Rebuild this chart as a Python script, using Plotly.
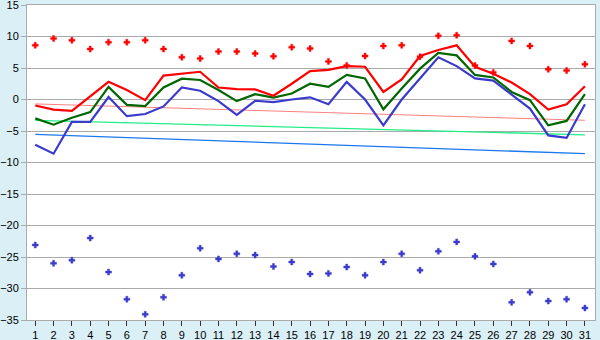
import plotly.graph_objects as go

days = list(range(1, 32))

red_line = [-0.95, -1.6, -1.8, 0.5, 2.8, 1.5, -0.1, 3.8, 4.1, 4.4, 1.9, 1.65, 1.6, 0.6, 2.5, 4.5,
            4.7, 5.3, 5.2, 1.2, 3.2, 6.9, 7.85, 8.6, 5.2, 4.1, 2.7, 0.85, -1.6, -0.75, 2.1]
green_line = [-3.0, -4.0, -2.9, -2.0, 2.0, -0.85, -1.05, 1.9, 3.3, 3.1, 1.5, -0.25, 0.85, 0.3, 0.95, 2.5,
              2.0, 3.9, 3.35, -1.55, 1.75, 4.9, 7.4, 7.0, 3.9, 3.5, 1.2, -0.1, -4.1, -3.4, 0.85]
blue_line = [-7.2, -8.6, -3.55, -3.55, 0.4, -2.65, -2.3, -1.1, 1.9, 1.4, -0.25, -2.45, -0.2, -0.4, 0.0, 0.35,
             -0.75, 2.8, 0.0, -4.1, 0.0, 3.35, 6.7, 5.3, 3.35, 3.0, 0.7, -1.45, -5.7, -6.1, -0.75]
red_points = [8.6, 9.7, 9.4, 8.0, 9.1, 9.1, 9.4, 8.0, 6.7, 6.5, 7.6, 7.6, 7.3, 6.85, 8.3, 8.1,
              6.05, 5.4, 6.9, 8.5, 8.6, 6.8, 10.1, 10.2, 5.4, 4.3, 9.3, 8.5, 4.8, 4.6, 5.6]
blue_points = [-23.1, -26.0, -25.5, -22.0, -27.4, -31.7, -34.1, -31.4, -27.9, -23.6, -25.3, -24.5, -24.7,
               -26.5, -25.8, -27.7, -27.6, -26.6, -27.9, -25.8, -24.5, -27.1, -24.1, -22.6, -24.9, -26.1,
               -32.2, -30.6, -32.0, -31.7, -33.1]

trend_days = [1, 31]
pink_trend = [-0.7, -3.3]
green_trend = [-3.3, -5.6]
blue_trend = [-5.55, -8.6]

y_ticks = list(range(-35, 16, 5))

fig = go.Figure()
fig.add_trace(go.Scatter(x=trend_days, y=pink_trend, mode="lines", line=dict(color="#ff8080", width=1)))
fig.add_trace(go.Scatter(x=trend_days, y=green_trend, mode="lines", line=dict(color="#22ee88", width=1.3)))
fig.add_trace(go.Scatter(x=trend_days, y=blue_trend, mode="lines", line=dict(color="#1a78f0", width=1.3)))
fig.add_trace(go.Scatter(x=days, y=blue_line, mode="lines", line=dict(color="#3a3acc", width=2.2)))
fig.add_trace(go.Scatter(x=days, y=green_line, mode="lines", line=dict(color="#006600", width=2.2)))
fig.add_trace(go.Scatter(x=days, y=red_line, mode="lines", line=dict(color="#ff0000", width=2.2)))
fig.add_trace(go.Scatter(x=days, y=red_points, mode="markers",
                         marker=dict(symbol="cross", size=5, color="#ff0000",
                                     line=dict(width=0.4, color="#ff0000"))))
fig.add_trace(go.Scatter(x=days, y=blue_points, mode="markers",
                         marker=dict(symbol="cross", size=5, color="#3a3acc",
                                     line=dict(width=0.4, color="#3a3acc"))))

fig.update_layout(
    width=600, height=340,
    margin=dict(l=27, r=5, t=5, b=20, pad=0),
    paper_bgcolor="#daeff6",
    plot_bgcolor="#ffffff",
    showlegend=False,
    font=dict(family="Liberation Sans, Arial, sans-serif", size=11, color="#000000"),
)
fig.update_xaxes(
    range=[0.55, 31.55], tickmode="array", tickvals=days, ticktext=[str(d) for d in days],
    showgrid=False, zeroline=False, showline=True, linecolor="#aaaaaa", linewidth=1,
    ticks="outside", ticklen=5, tickcolor="#333333", tickwidth=1, mirror=True,
    automargin=False,
)
fig.update_yaxes(
    range=[-35, 15], tickmode="array", tickvals=y_ticks,
    ticktext=[("\u2212" + str(-v)) if v < 0 else str(v) for v in y_ticks],
    showgrid=True, gridcolor="#aaaaaa", gridwidth=1, zeroline=False,
    showline=True, linecolor="#aaaaaa", linewidth=1, mirror=True,
    ticks="outside", ticklen=5, tickcolor="#aaaaaa", ticklabeloverflow="allow",
    automargin=False,
)

fig.write_html(
    "out.html",
    config={"displayModeBar": False},
    post_script="document.body.style.margin='0';document.body.style.padding='0';"
                "document.documentElement.style.overflow='hidden';",
)
